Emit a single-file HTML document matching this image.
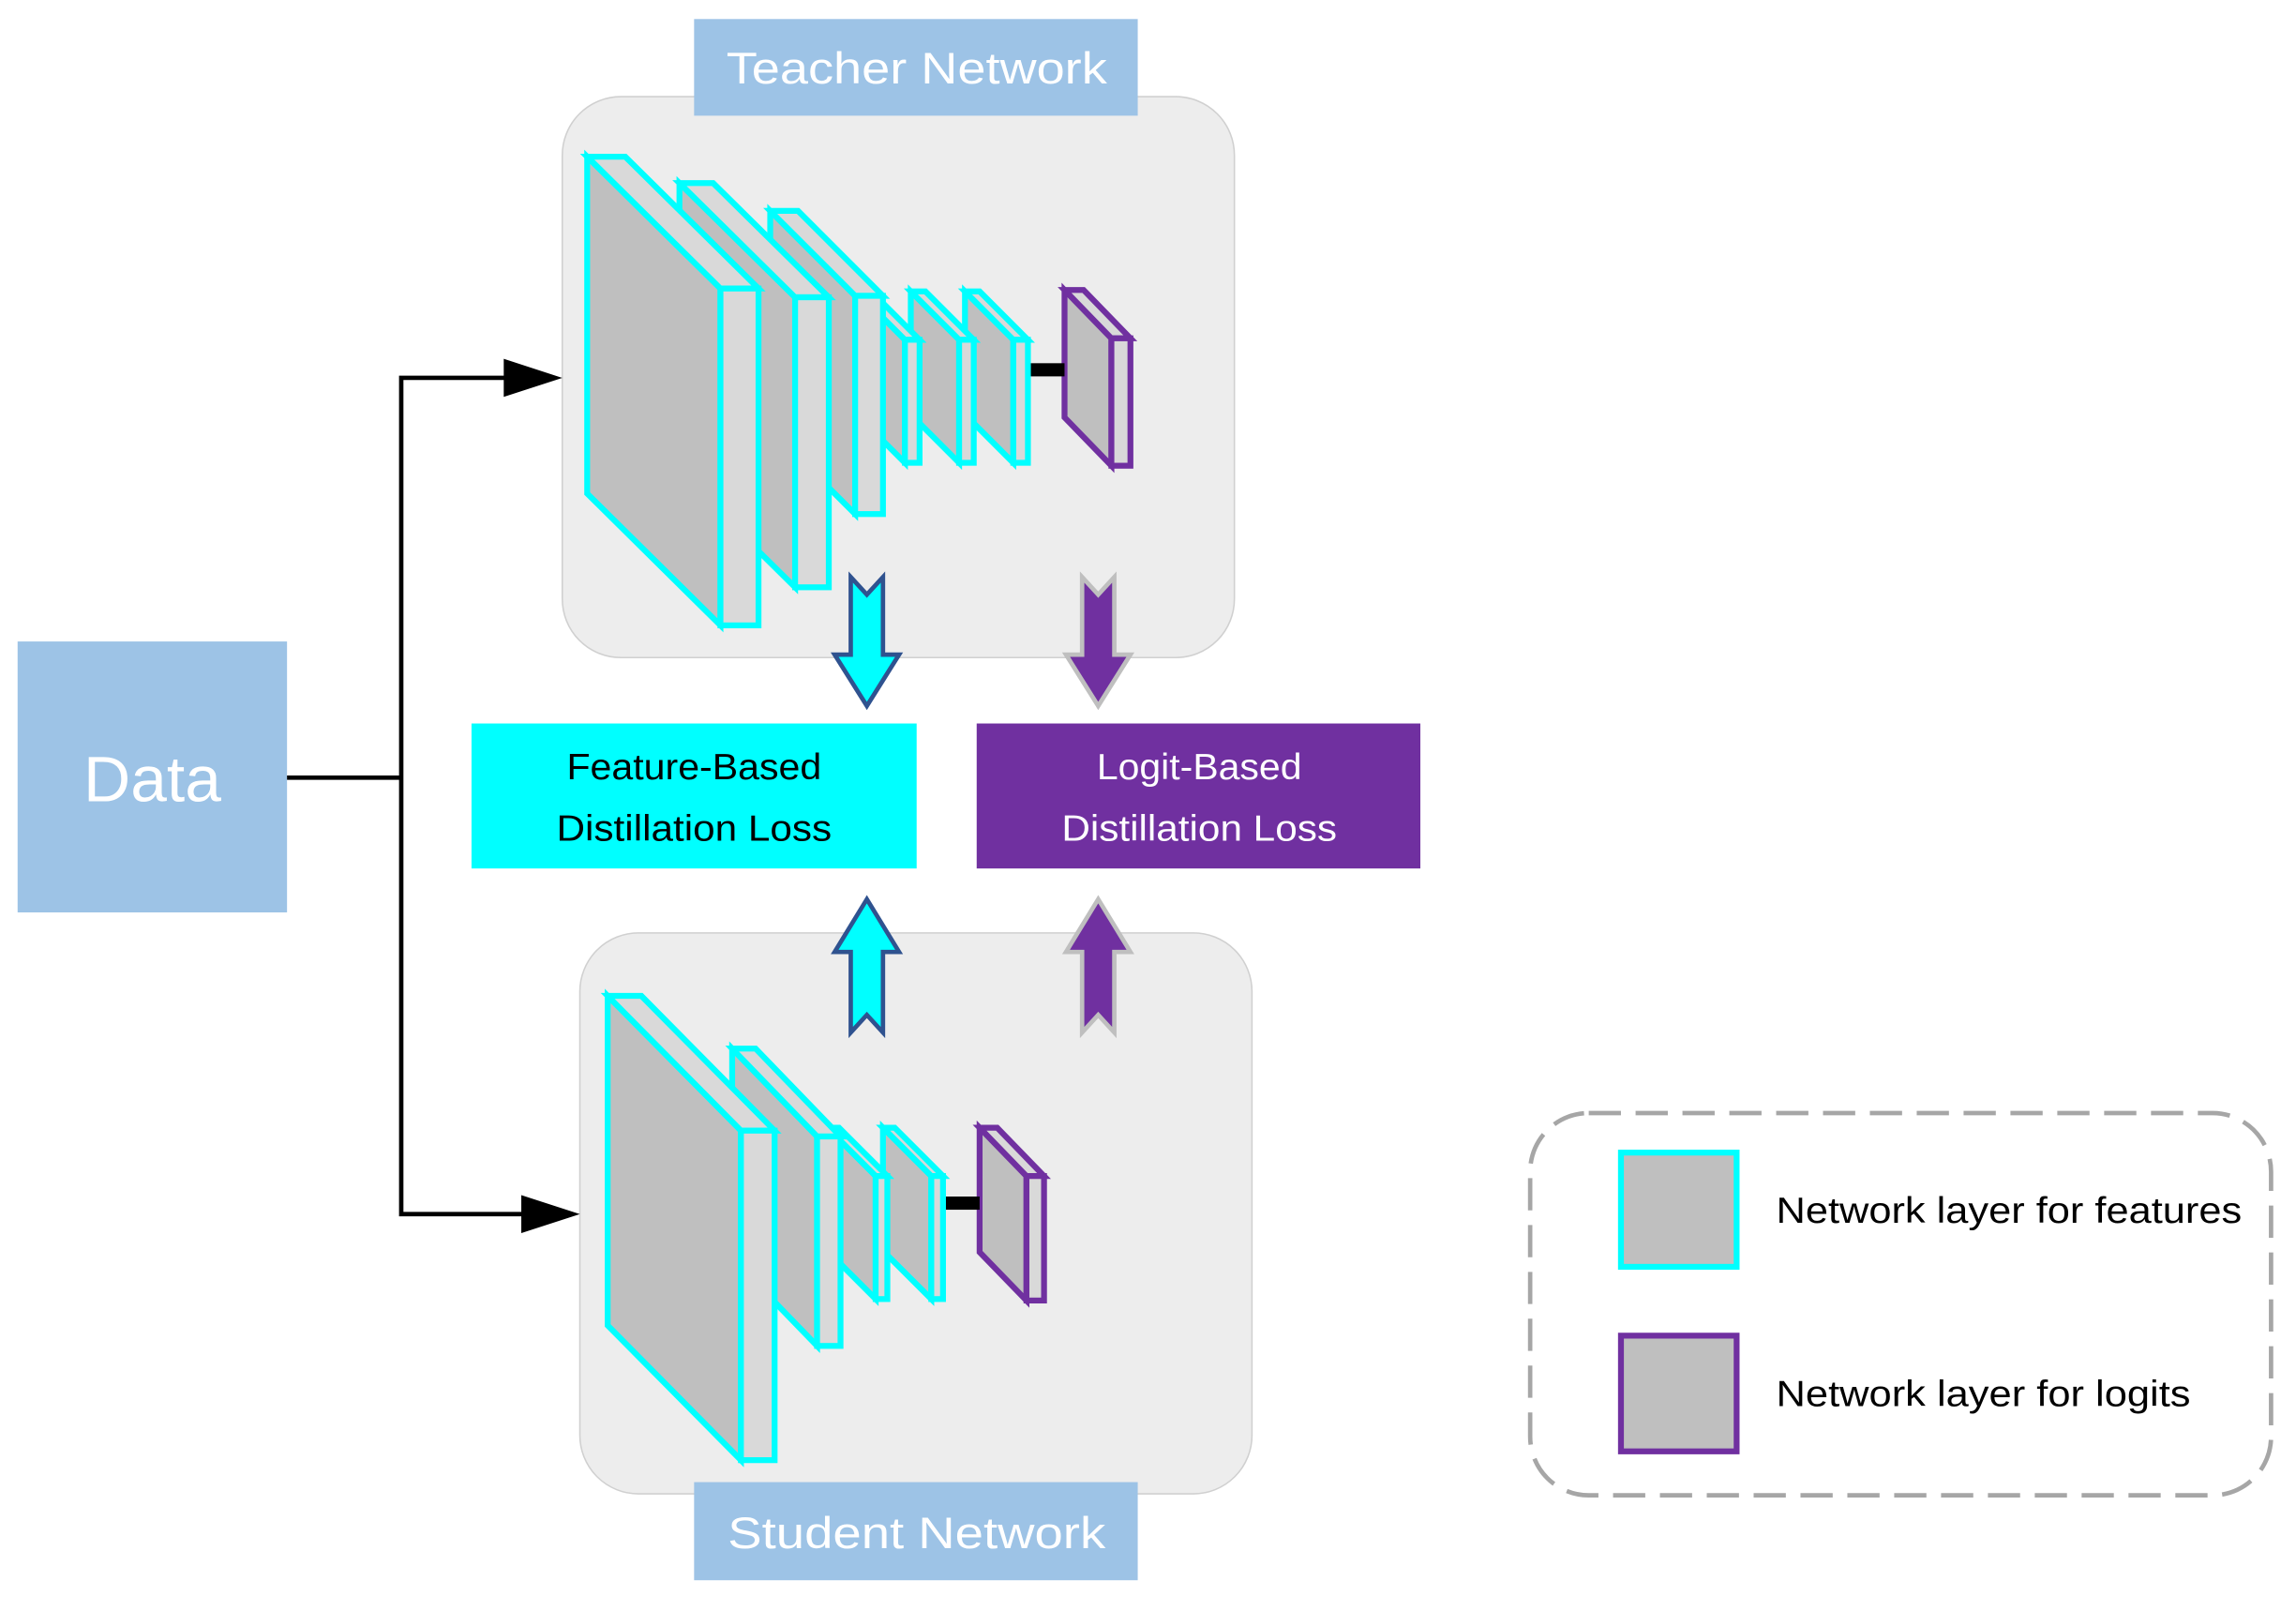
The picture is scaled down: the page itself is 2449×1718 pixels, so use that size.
<!DOCTYPE html>
<html><head><meta charset="utf-8"><style>
html,body{margin:0;padding:0;background:#fff;}
svg{display:block;}
text{font-family:"Liberation Sans","DejaVu Sans",sans-serif;}
</style></head><body>
<svg width="2449" height="1718" viewBox="0 0 1568 1100" xmlns="http://www.w3.org/2000/svg">
<rect x="0" y="0" width="1568" height="1100" fill="#fff"/>
<rect x="384" y="66" width="459" height="383" rx="40" fill="#ededed" stroke="#d0d0d0" stroke-width="1"/>
<rect x="396" y="637" width="459" height="383" rx="40" fill="#ededed" stroke="#d0d0d0" stroke-width="1"/>
<rect x="474" y="13" width="303" height="66" fill="#9dc3e6"/>
<text x="496" y="57" font-size="30" fill="#fff" textLength="260" lengthAdjust="spacingAndGlyphs">Teacher Network</text>
<rect x="474" y="1012" width="303" height="67" fill="#9dc3e6"/>
<text x="497" y="1057" font-size="30" fill="#fff" textLength="258" lengthAdjust="spacingAndGlyphs">Student Network</text>
<rect x="12" y="438" width="184" height="185" fill="#9dc3e6"/>
<text x="57" y="547" font-size="44" fill="#fff" textLength="94" lengthAdjust="spacingAndGlyphs">Data</text>
<g stroke="#000" stroke-width="3" fill="none">
<polyline points="196,531 274,531"/>
<polyline points="346,258 274,258 274,829 358,829"/>
</g>
<polygon points="384,258 344,245 344,271" fill="#000"/>
<polygon points="396,829 356,816 356,842" fill="#000"/>
<g stroke-width="4" stroke-linejoin="miter">
<g stroke="#7030a0"><polygon points="727,198 759,231 759,318 727,285" fill="#bfbfbf"/><polygon points="727,198 740,198 772,231 759,231" fill="#d9d9d9"/><rect x="759" y="231" width="13" height="87" fill="#d9d9d9"/></g>
<rect x="702" y="248" width="25" height="9" fill="#000" stroke="none"/>
<g stroke="#00ffff">
<polygon points="659,199 692,232 692,316 659,283" fill="#bfbfbf"/><polygon points="659,199 669,199 702,232 692,232" fill="#d9d9d9"/><rect x="692" y="232" width="10" height="84" fill="#d9d9d9"/>
<polygon points="622,199 655,232 655,316 622,283" fill="#bfbfbf"/><polygon points="622,199 632,199 665,232 655,232" fill="#d9d9d9"/><rect x="655" y="232" width="10" height="84" fill="#d9d9d9"/>
<polygon points="585,199 618,232 618,316 585,283" fill="#bfbfbf"/><polygon points="585,199 595,199 628,232 618,232" fill="#d9d9d9"/><rect x="618" y="232" width="10" height="84" fill="#d9d9d9"/>
<polygon points="526,144 584,202 584,351 526,293" fill="#bfbfbf"/><polygon points="526,144 545,144 603,202 584,202" fill="#d9d9d9"/><rect x="584" y="202" width="19" height="149" fill="#d9d9d9"/>
<polygon points="464,125 543,203 543,401 464,323" fill="#bfbfbf"/><polygon points="464,125 487,125 566,203 543,203" fill="#d9d9d9"/><rect x="543" y="203" width="23" height="198" fill="#d9d9d9"/>
<polygon points="401,107 492,197 492,427 401,337" fill="#bfbfbf"/><polygon points="401,107 427,107 518,197 492,197" fill="#d9d9d9"/><rect x="492" y="197" width="26" height="230" fill="#d9d9d9"/>
</g>
<g stroke="#7030a0"><polygon points="669,770 701,803 701,888 669,855" fill="#bfbfbf"/><polygon points="669,770 681,770 713,803 701,803" fill="#d9d9d9"/><rect x="701" y="803" width="12" height="85" fill="#d9d9d9"/></g>
<rect x="644" y="817" width="25" height="9" fill="#000" stroke="none"/>
<g stroke="#00ffff">
<polygon points="603,770 636,803 636,887 603,854" fill="#bfbfbf"/><polygon points="603,770 611,770 644,803 636,803" fill="#d9d9d9"/><rect x="636" y="803" width="8" height="84" fill="#d9d9d9"/>
<polygon points="565,770 598,803 598,887 565,854" fill="#bfbfbf"/><polygon points="565,770 573,770 606,803 598,803" fill="#d9d9d9"/><rect x="598" y="803" width="8" height="84" fill="#d9d9d9"/>
<polygon points="500,716 558,776 558,919 500,859" fill="#bfbfbf"/><polygon points="500,716 516,716 574,776 558,776" fill="#d9d9d9"/><rect x="558" y="776" width="16" height="143" fill="#d9d9d9"/>
<polygon points="415,680 506,772 506,997 415,905" fill="#bfbfbf"/><polygon points="415,680 438,680 529,772 506,772" fill="#d9d9d9"/><rect x="506" y="772" width="23" height="225" fill="#d9d9d9"/>
</g>
</g>
<g stroke-width="3" stroke-linejoin="miter">
<polygon points="581,394 592,406 603,394 603,447 614,447 592,482 570,447 581,447" fill="#00ffff" stroke="#2f528f"/>
<polygon points="739,394 750,406 761,394 761,447 772,447 750,482 728,447 739,447" fill="#7030a0" stroke="#bfbfbf"/>
<polygon points="592,614 614,650 603,650 603,705 592,693 581,705 581,650 570,650" fill="#00ffff" stroke="#2f528f"/>
<polygon points="750,614 772,650 761,650 761,705 750,693 739,705 739,650 728,650" fill="#7030a0" stroke="#bfbfbf"/>
</g>
<rect x="322" y="494" width="304" height="99" fill="#00ffff"/>
<text x="387" y="532" font-size="25" fill="#000" textLength="174" lengthAdjust="spacingAndGlyphs">Feature-Based</text>
<text x="380" y="574" font-size="25" fill="#000" textLength="188" lengthAdjust="spacingAndGlyphs">Distillation Loss</text>
<rect x="667" y="494" width="303" height="99" fill="#7030a0"/>
<text x="749" y="532" font-size="25" fill="#fff" textLength="140" lengthAdjust="spacingAndGlyphs">Logit-Based</text>
<text x="725" y="574" font-size="25" fill="#fff" textLength="188" lengthAdjust="spacingAndGlyphs">Distillation Loss</text>
<rect x="1045" y="760" width="506" height="261" rx="40" fill="none" stroke="#a6a6a6" stroke-width="3" stroke-dasharray="22,10"/>
<rect x="1107" y="787" width="79" height="78" fill="#bfbfbf" stroke="#00ffff" stroke-width="4"/>
<rect x="1107" y="912" width="79" height="79" fill="#bfbfbf" stroke="#7030a0" stroke-width="4"/>
<text x="1213" y="835" font-size="25" fill="#000" textLength="318" lengthAdjust="spacingAndGlyphs">Network layer for features</text>
<text x="1213" y="960" font-size="25" fill="#000" textLength="283" lengthAdjust="spacingAndGlyphs">Network layer for logits</text>
</svg>
</body></html>
